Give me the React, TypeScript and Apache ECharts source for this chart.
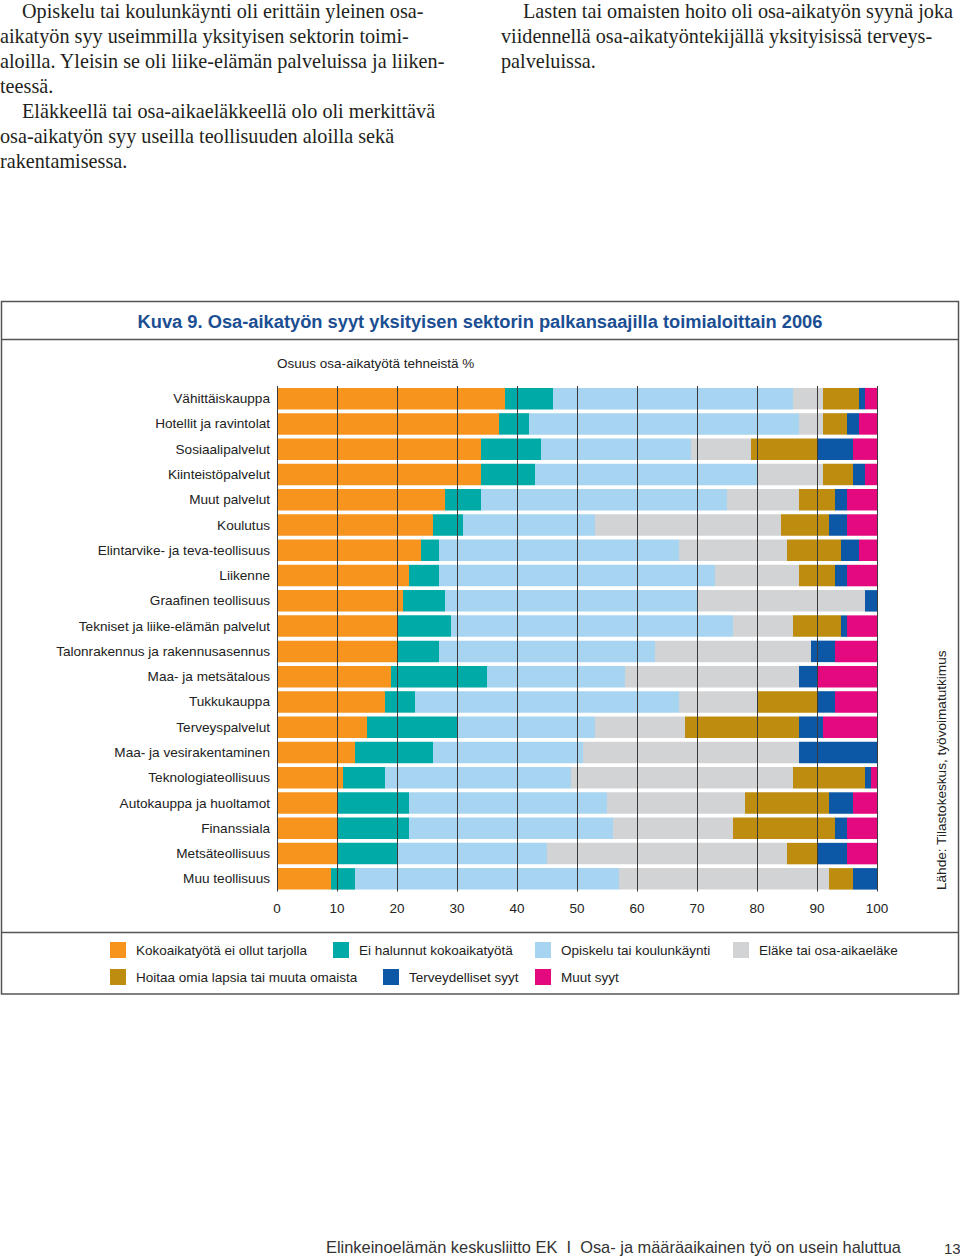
import React, { useEffect, useRef } from "react";
import * as echarts from "echarts";

const categories = [
  "Vähittäiskauppa",
  "Hotellit ja ravintolat",
  "Sosiaalipalvelut",
  "Kiinteistöpalvelut",
  "Muut palvelut",
  "Koulutus",
  "Elintarvike- ja teva-teollisuus",
  "Liikenne",
  "Graafinen teollisuus",
  "Tekniset ja liike-elämän palvelut",
  "Talonrakennus ja rakennusasennus",
  "Maa- ja metsätalous",
  "Tukkukauppa",
  "Terveyspalvelut",
  "Maa- ja vesirakentaminen",
  "Teknologiateollisuus",
  "Autokauppa ja huoltamot",
  "Finanssiala",
  "Metsäteollisuus",
  "Muu teollisuus",
];

const seriesNames = [
  "Kokoaikatyötä ei ollut tarjolla",
  "Ei halunnut kokoaikatyötä",
  "Opiskelu tai koulunkäynti",
  "Eläke tai osa-aikaeläke",
  "Hoitaa omia lapsia tai muuta omaista",
  "Terveydelliset syyt",
  "Muut syyt",
];

const kokoaika = [38, 37, 34, 34, 28, 26, 24, 22, 21, 20, 20, 19, 18, 15, 13, 11, 10, 10, 10, 9];
const eiHalunnut = [8, 5, 10, 9, 6, 5, 3, 5, 7, 9, 7, 16, 5, 15, 13, 7, 12, 12, 10, 4];
const opiskelu = [40, 45, 25, 37, 41, 22, 40, 46, 42, 47, 36, 23, 44, 23, 25, 31, 33, 34, 25, 44];
const elake = [5, 4, 10, 11, 12, 31, 18, 14, 28, 10, 26, 29, 13, 15, 36, 37, 23, 20, 40, 35];
const hoitaa = [6, 4, 11, 5, 6, 8, 9, 6, 0, 8, 0, 0, 10, 19, 0, 12, 14, 17, 5, 4];
const terveys = [1, 2, 6, 2, 2, 3, 3, 2, 2, 1, 4, 3, 3, 4, 13, 1, 4, 2, 5, 4];
const muut = [2, 3, 4, 2, 5, 5, 3, 5, 0, 5, 7, 10, 7, 9, 0, 1, 4, 5, 5, 0];

const xTicks = [0, 10, 20, 30, 40, 50, 60, 70, 80, 90, 100];

const colors = ["#F7941D", "#00AAA6", "#A6D4F1", "#D2D3D5", "#BE8C0E", "#0C58A6", "#E5097F"];

const leftParagraph = [
  "Opiskelu tai koulunkäynti oli erittäin yleinen osa-",
  "aikatyön syy useimmilla yksityisen sektorin toimi-",
  "aloilla. Yleisin se oli liike-elämän palveluissa ja liiken-",
  "teessä.",
  "Eläkkeellä tai osa-aikaeläkkeellä olo oli merkittävä",
  "osa-aikatyön syy useilla teollisuuden aloilla sekä",
  "rakentamisessa.",
];
const leftIndent = [true, false, false, false, true, false, false];
const rightParagraph = [
  "Lasten tai omaisten hoito oli osa-aikatyön syynä joka",
  "viidennellä osa-aikatyöntekijällä yksityisissä terveys-",
  "palveluissa.",
];
const rightIndent = [true, false, false];

const titleText = "Kuva 9. Osa-aikatyön syyt yksityisen sektorin palkansaajilla toimialoittain 2006";
const subtitleText = "Osuus osa-aikatyötä tehneistä %";
const sourceText = "Lähde: Tilastokeskus, työvoimatutkimus";
const footerText = "Elinkeinoelämän keskusliitto EK  I  Osa- ja määräaikainen työ on usein haluttua";
const pageNumber = "13";

const SANS = "'Liberation Sans', Arial, sans-serif";
const SERIF = "'Liberation Serif', 'Times New Roman', serif";

const legendLayout = [
  { left: 110, top: 942 },
  { left: 333, top: 942 },
  { left: 535, top: 942 },
  { left: 733, top: 942 },
  { left: 110, top: 969 },
  { left: 383, top: 969 },
  { left: 535, top: 969 },
];

export default function App() {
  const ref = useRef<HTMLDivElement>(null);

  useEffect(() => {
    if (!ref.current) return;
    const chart = echarts.init(ref.current, undefined, { renderer: "svg" });
    const values = [kokoaika, eiHalunnut, opiskelu, elake, hoitaa, terveys, muut];

    const graphics: any[] = [];
    leftParagraph.forEach((line, i) => {
      graphics.push({
        type: "text",
        x: leftIndent[i] ? 22 : 0,
        y: 11 + i * 25,
        style: { text: line, font: `20.2px ${SERIF}`, fill: "#231f20", textVerticalAlign: "middle" },
      });
    });
    rightParagraph.forEach((line, i) => {
      graphics.push({
        type: "text",
        x: rightIndent[i] ? 523 : 501,
        y: 11 + i * 25,
        style: { text: line, font: `20.2px ${SERIF}`, fill: "#231f20", textVerticalAlign: "middle" },
      });
    });
    graphics.push(
      {
        type: "rect",
        shape: { x: 1.5, y: 301.5, width: 957, height: 692.5 },
        style: { fill: "none", stroke: "#555", lineWidth: 1.5 },
      },
      {
        type: "line",
        shape: { x1: 1.5, y1: 339.5, x2: 958.5, y2: 339.5 },
        style: { stroke: "#555", lineWidth: 1.5 },
      },
      {
        type: "line",
        shape: { x1: 1.5, y1: 932.5, x2: 958.5, y2: 932.5 },
        style: { stroke: "#555", lineWidth: 1.5 },
      },
      {
        type: "text",
        x: 480,
        y: 321,
        style: {
          text: titleText,
          font: `bold 18.3px ${SANS}`,
          fill: "#1B4E92",
          textAlign: "center",
          textVerticalAlign: "middle",
        },
      },
      {
        type: "text",
        x: 277,
        y: 363,
        style: { text: subtitleText, font: `13.5px ${SANS}`, fill: "#222", textVerticalAlign: "middle" },
      },
      {
        type: "text",
        x: 941,
        y: 890,
        rotation: Math.PI / 2,
        style: { text: sourceText, font: `13.6px ${SANS}`, fill: "#222", textVerticalAlign: "middle" },
      },
      {
        type: "text",
        x: 326,
        y: 1247,
        style: { text: footerText, font: `16.4px ${SANS}`, fill: "#333", textVerticalAlign: "middle" },
      },
      {
        type: "text",
        x: 944,
        y: 1248,
        style: { text: pageNumber, font: `15px ${SANS}`, fill: "#333", textVerticalAlign: "middle" },
      }
    );

    chart.setOption({
      animation: false,
      backgroundColor: "#ffffff",
      color: colors,
      legend: seriesNames.map((name, i) => ({
        data: [name],
        left: legendLayout[i].left,
        top: legendLayout[i].top,
        padding: 0,
        itemWidth: 16,
        itemHeight: 16,
        icon: "rect",
        selectedMode: false,
        textStyle: { fontSize: 13.5, fontFamily: SANS, color: "#222", padding: [0, 0, 0, 5] },
      })),
      grid: { left: 277, right: 83, top: 386, bottom: 365.5, containLabel: false },
      xAxis: {
        type: "value",
        min: xTicks[0],
        max: xTicks[xTicks.length - 1],
        interval: 10,
        z: 10,
        axisLine: { show: false },
        axisTick: { show: false },
        splitLine: { show: true, lineStyle: { color: "#3a3a3a", width: 1 } },
        axisLabel: { fontSize: 13.5, fontFamily: SANS, color: "#222", margin: 10 },
      },
      yAxis: {
        type: "category",
        data: categories,
        inverse: true,
        axisLine: { show: false },
        axisTick: { show: false },
        axisLabel: { fontSize: 13.6, fontFamily: SANS, color: "#222", margin: 7 },
      },
      graphic: graphics,
      series: seriesNames.map((name, i) => ({
        name,
        type: "bar",
        stack: "total",
        barCategoryGap: "15%",
        data: values[i],
        itemStyle: { color: colors[i] },
      })),
    });

    return () => chart.dispose();
  }, []);

  return (
    <div
      ref={ref}
      style={{ position: "absolute", left: 0, top: 0, width: 960, height: 1257 }}
    />
  );
}
